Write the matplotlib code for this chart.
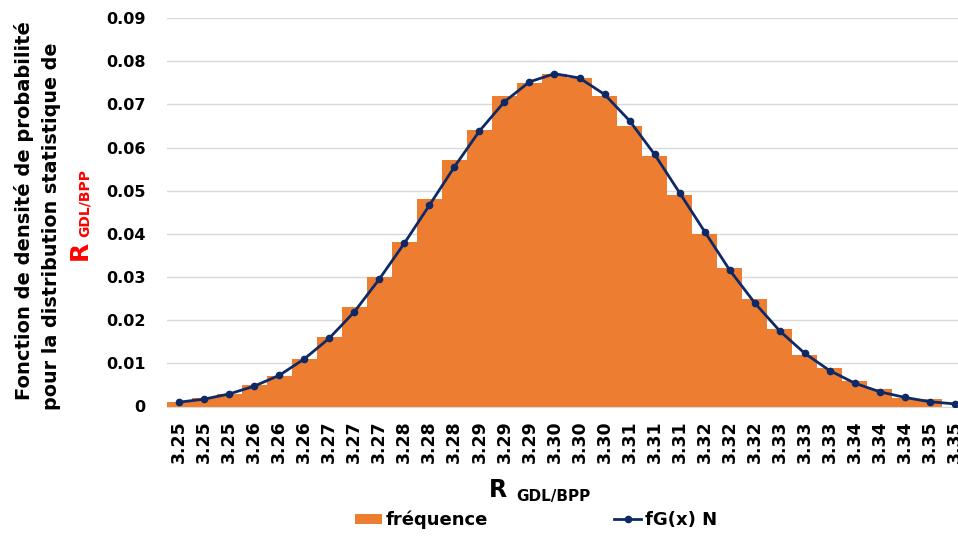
import matplotlib
matplotlib.use("Agg")
import matplotlib.pyplot as plt
import numpy as np

tick_labels = ["3.25", "3.25", "3.25", "3.26", "3.26", "3.26", "3.27", "3.27",
               "3.27", "3.28", "3.28", "3.28", "3.29", "3.29", "3.29", "3.30",
               "3.30", "3.30", "3.31", "3.31", "3.31", "3.32", "3.32", "3.32",
               "3.33", "3.33", "3.33", "3.34", "3.34", "3.34", "3.35", "3.35"]

frequence = [0.001, 0.002, 0.003, 0.005, 0.007, 0.011, 0.016, 0.023,
             0.030, 0.038, 0.048, 0.057, 0.064, 0.072, 0.075, 0.077,
             0.076, 0.072, 0.065, 0.058, 0.049, 0.040, 0.032, 0.025,
             0.018, 0.012, 0.009, 0.006, 0.004, 0.002, 0.0018, 0.0]

fg_normal = [0.0010, 0.0017, 0.0029, 0.0047, 0.0072, 0.0110, 0.0158, 0.0219,
             0.0295, 0.0378, 0.0466, 0.0555, 0.0638, 0.0706, 0.0752, 0.0771,
             0.0761, 0.0723, 0.0662, 0.0584, 0.0495, 0.0405, 0.0316, 0.0240,
             0.0175, 0.0123, 0.0083, 0.0054, 0.0034, 0.0021, 0.0011, 0.0006]

W, H = 958, 536
fig = plt.figure(figsize=(W / 100, H / 100), dpi=100)
plt.rcParams['font.family'] = ['DejaVu Sans']

left_px, right_px, top_px, bottom_px = 166.5, 967.5, 18, 406.5
ax = fig.add_axes([left_px / W, 1 - bottom_px / H,
                   (right_px - left_px) / W, (bottom_px - top_px) / H])

x = np.arange(len(frequence))
bar_color = '#ED7D31'
line_color = '#0E2A66'
bars = ax.bar(x, frequence, width=1.0, color=bar_color, label='fréquence',
              zorder=2)
line, = ax.plot(x, fg_normal, color=line_color, lw=2.0, marker='o',
                markersize=4.5, label='fG(x) N', zorder=3)

ax.set_xlim(-0.5, len(frequence) - 0.5)
ax.set_ylim(0, 0.09)
yt = np.arange(0, 0.0901, 0.01)
ax.set_yticks(yt)
ax.set_yticklabels(['0'] + ['%.2f' % v for v in yt[1:]], fontsize=11.5,
                   fontweight='bold')
ax.set_xticks(x)
ax.set_xticklabels(tick_labels, rotation=90, fontsize=12.5, fontweight='bold')
ax.tick_params(axis='both', length=0)
ax.tick_params(axis='y', pad=15)
ax.tick_params(axis='x', pad=10)
ax.grid(axis='y', color='#D9D9D9', lw=1.0, zorder=0)
ax.set_axisbelow(True)
for s in ['top', 'right', 'left']:
    ax.spines[s].set_visible(False)
ax.spines['bottom'].set_color('#D9D9D9')

def fx(px):
    return px / W

def fy(py):
    return 1 - py / H

# x axis label
fig.text(fx(507), fy(497), 'R', fontsize=17, fontweight='bold', ha='right',
         va='baseline')
fig.text(fx(516), fy(501), 'GDL/BPP', fontsize=11, fontweight='bold',
         ha='left', va='baseline')

# y axis label
fig.text(fx(24), fy(211), 'Fonction de densité de probabilité', rotation=90,
         fontsize=14, fontweight='bold', ha='center', va='center')
fig.text(fx(52), fy(226), 'pour la distribution statistique de', rotation=90,
         fontsize=13.8, fontweight='bold', ha='center', va='center')
fig.text(fx(80), fy(250), 'R', rotation=90, color='red', fontsize=18,
         fontweight='bold', ha='center', va='center')
fig.text(fx(85), fy(203), 'GDL/BPP', rotation=90, color='red', fontsize=10,
         fontweight='bold', ha='center', va='center')

leg = fig.legend(handles=[bars, line], labels=['fréquence', 'fG(x) N'],
                 loc='center', bbox_to_anchor=(fx(536), fy(520)), ncol=2,
                 frameon=False, prop={'weight': 'bold', 'size': 13},
                 handlelength=1.5, handleheight=0.5, handletextpad=0.2,
                 columnspacing=7.0)

fig.savefig('out.png', dpi=100)
